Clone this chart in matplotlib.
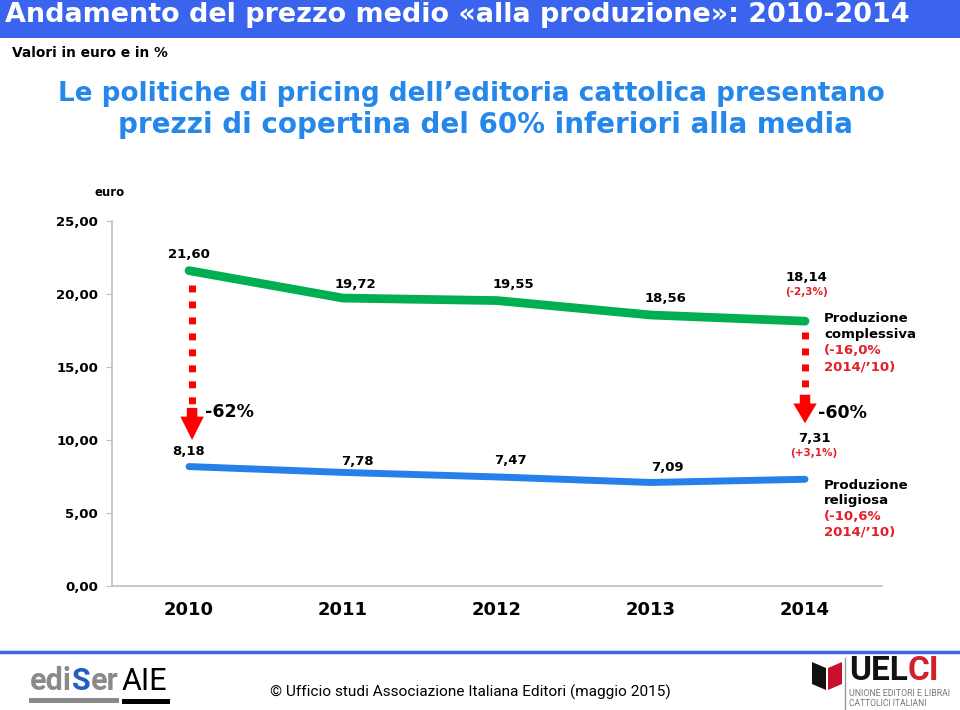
import matplotlib
matplotlib.use("Agg")
import matplotlib.pyplot as plt
from matplotlib import font_manager
from matplotlib.patches import Rectangle, Polygon
from matplotlib.lines import Line2D

# ---------------- data ----------------
years = ["2010", "2011", "2012", "2013", "2014"]
complessiva = [21.60, 19.72, 19.55, 18.56, 18.14]
religiosa = [8.18, 7.78, 7.47, 7.09, 7.31]
complessiva_labels = ["21,60", "19,72", "19,55", "18,56", "18,14"]
religiosa_labels = ["8,18", "7,78", "7,47", "7,09", "7,31"]
yticks = [0, 5, 10, 15, 20, 25]
ytick_labels = ["0,00", "5,00", "10,00", "15,00", "20,00", "25,00"]
var_last_compl = "(-2,3%)"
var_last_rel = "(+3,1%)"
gap_labels = ["-62%", "-60%"]

title = "Andamento del prezzo medio «alla produzione»: 2010-2014"
subtitle_units = "Valori in euro e in %"
headline = ["Le politiche di pricing dell\u2019editoria cattolica presentano",
            "prezzi di copertina del 60% inferiori alla media"]
footer = "\u00a9 Ufficio studi Associazione Italiana Editori (maggio 2015)"

# ---------------- styles ----------------
W, H = 960, 710
BAND = "#3A63EE"
HEAD_BLUE = "#2587EA"
GREEN = "#00B050"
BLUE = "#2680EB"
RED = "#FF0000"
RED_TXT = "#E3202A"
GRAY = "#BFBFBF"

available = {f.name for f in font_manager.fontManager.ttflist}
def pick(*names):
    for n in names:
        if n in available:
            return n
    return "DejaVu Sans"
NARROW = pick("Liberation Sans Narrow", "Roboto", "Liberation Sans")
BOLD = "DejaVu Sans"

fig = plt.figure(figsize=(W / 100, H / 100), dpi=100)
fig.patch.set_facecolor("white")
renderer = fig.canvas.get_renderer()

def P(x, y):
    return (x / W, 1 - y / H)

def ftext(x, y, s, width=None, **kw):
    t = fig.text(*P(x, y), s, **kw)
    if width is not None:
        bb = t.get_window_extent(renderer)
        t.set_fontsize(t.get_fontsize() * width / bb.width)
    return t

# header band
fig.patches.append(Rectangle(P(0, 38), 1, 38 / H, transform=fig.transFigure,
                             facecolor=BAND, edgecolor="none", zorder=0))
ftext(5, 22, title, width=910, color="white", fontsize=18, fontweight="bold",
      family=BOLD, ha="left", va="baseline")
ftext(12, 57, subtitle_units, width=155, color="black", fontsize=9,
      fontweight="bold", family=BOLD, ha="left", va="baseline")
ftext(471, 101, headline[0], width=826, color=HEAD_BLUE, fontsize=17,
      fontweight="bold", family=BOLD, ha="center", va="baseline")
ftext(485, 133, headline[1], width=734, color=HEAD_BLUE, fontsize=17,
      fontweight="bold", family=BOLD, ha="center", va="baseline")

# ---------------- axes ----------------
ax = fig.add_axes([112 / W, 1 - 586 / H, 770 / W, 365 / H])
ax.set_xlim(-0.5, 4.5)
ax.set_ylim(0, 25)
x = list(range(len(years)))
for s in ["top", "right"]:
    ax.spines[s].set_visible(False)
ax.spines["left"].set_color(GRAY)
ax.spines["bottom"].set_color(GRAY)
ax.spines["left"].set_linewidth(1.2)
ax.spines["bottom"].set_linewidth(1.2)
ax.set_yticks(yticks)
ax.set_yticklabels(ytick_labels, fontsize=9.5, fontweight="bold", family=BOLD)
ax.tick_params(axis="y", length=4, color=GRAY, pad=6)
ax.set_xticks(x)
ax.set_xticklabels(years, fontsize=13, fontweight="bold", family=BOLD)
ax.tick_params(axis="x", length=0, pad=11)
ax.patch.set_alpha(0)

ax.plot(x, complessiva, color=GREEN, lw=6.3, solid_capstyle="round",
        solid_joinstyle="round", zorder=3)
ax.plot(x, religiosa, color=BLUE, lw=5, solid_capstyle="round",
        solid_joinstyle="round", zorder=3)

def lab(xv, yv, s, dx, dy, **kw):
    kw.setdefault("fontsize", 9.5)
    kw.setdefault("fontweight", "bold")
    kw.setdefault("family", BOLD)
    kw.setdefault("ha", "center")
    ax.annotate(s, (xv, yv), xytext=(dx * 0.72, -dy * 0.72),
                textcoords="offset points", va="center",
                annotation_clip=False, **kw)

g_off = [(0, -16), (12, -14), (16, -16), (14, -17), (1, -44)]
b_off = [(0, -15), (14, -11), (13, -16), (16, -15), (9, -41)]
for i in x:
    lab(x[i], complessiva[i], complessiva_labels[i], *g_off[i])
    lab(x[i], religiosa[i], religiosa_labels[i], *b_off[i])
lab(x[-1], complessiva[-1], var_last_compl, 1, -29, fontsize=7.5, color=RED_TXT)
lab(x[-1], religiosa[-1], var_last_rel, 9, -26, fontsize=7.5, color=RED_TXT)

# series names
for j, (s, c) in enumerate([("Produzione", "black"), ("complessiva", "black"),
                            ("(-16,0%", RED_TXT), ("2014/\u201910)", RED_TXT)]):
    lab(x[-1], complessiva[-1], s, 19, -3 + 16.3 * j, ha="left", color=c)
for j, (s, c) in enumerate([("Produzione", "black"), ("religiosa", "black"),
                            ("(-10,6%", RED_TXT), ("2014/\u201910)", RED_TXT)]):
    lab(x[-1], religiosa[-1], s, 19, 6 + 15.7 * j, ha="left", color=c)

# gap arrows (top of dots, stem top, head base, tip) in data units
arrows = [(0.02, 20.6, 12.2, 11.6, 10.0), (4.0, 17.4, 13.1, 12.5, 11.15)]
for (ax_x, top, stem, base, tip) in arrows:
    ax.plot([ax_x, ax_x], [top, stem + 0.25], color=RED, lw=5.0,
            linestyle=(0, (1, 1.3)), dash_capstyle="butt", zorder=2)
    sw, hw = 0.034, 0.076
    poly = [(ax_x - sw, stem), (ax_x + sw, stem), (ax_x + sw, base),
            (ax_x + hw, base), (ax_x, tip), (ax_x - hw, base), (ax_x - sw, base)]
    ax.add_patch(Polygon(poly, closed=True, facecolor=RED, edgecolor="none",
                         zorder=2, clip_on=False))

ftext(205, 412, gap_labels[0], color="black", fontsize=12.5, fontweight="bold",
      family=BOLD, ha="left", va="center")
ftext(818, 413, gap_labels[1], color="black", fontsize=12.5, fontweight="bold",
      family=BOLD, ha="left", va="center")
ftext(110, 192, "euro", color="black", fontsize=8.5, fontweight="bold",
      family=BOLD, ha="center", va="center")

# ---------------- footer ----------------
fig.lines.append(Line2D([0, 1], [1 - 652 / H] * 2, transform=fig.transFigure,
                        color=BAND, lw=2.5))
ftext(470, 692, footer, width=398, color="black", fontsize=11, family=NARROW,
      ha="center", va="center")

# ediSer logo
xcur = 30
for s, c in [("edi", "#8A8A8A"), ("S", "#2160C0"), ("er", "#8A8A8A")]:
    t = ftext(xcur, 681, s, color=c, fontsize=22, fontweight="bold",
              family=NARROW, ha="left", va="center")
    xcur += t.get_window_extent(renderer).width
fig.patches.append(Rectangle(P(29, 703), (xcur - 29) / W, 5 / H,
                             transform=fig.transFigure, facecolor="#8A8A8A",
                             edgecolor="none"))
ftext(122, 681, "AIE", color="black", fontsize=22, family=NARROW,
      ha="left", va="center")
fig.patches.append(Rectangle(P(122, 704), 48 / W, 5 / H,
                             transform=fig.transFigure, facecolor="black",
                             edgecolor="none"))

# UELCI logo
fig.patches.append(Polygon([P(812, 662), P(826, 668), P(826, 690), P(812, 684)],
                           closed=True, transform=fig.transFigure,
                           facecolor="#111111", edgecolor="none"))
fig.patches.append(Polygon([P(828, 668), P(842, 662), P(842, 684), P(828, 690)],
                           closed=True, transform=fig.transFigure,
                           facecolor="#C8102E", edgecolor="none"))
fig.lines.append(Line2D([845 / W] * 2, [1 - 658 / H, 0], transform=fig.transFigure,
                        color="#999999", lw=1))
t = ftext(849, 671, "UEL", color="#111111", fontsize=24, fontweight="bold",
          family=NARROW, ha="left", va="center")
xw = 849 + t.get_window_extent(renderer).width
ftext(xw, 671, "CI", color="#D0202A", fontsize=24, fontweight="bold",
      family=NARROW, ha="left", va="center")
ftext(849, 693, "UNIONE EDITORI E LIBRAI", width=101, color="#777777",
      fontsize=7, family=NARROW, ha="left", va="center")
ftext(849, 704, "CATTOLICI ITALIANI", width=78, color="#777777",
      fontsize=7, family=NARROW, ha="left", va="center")

fig.savefig("out.png", dpi=100)
